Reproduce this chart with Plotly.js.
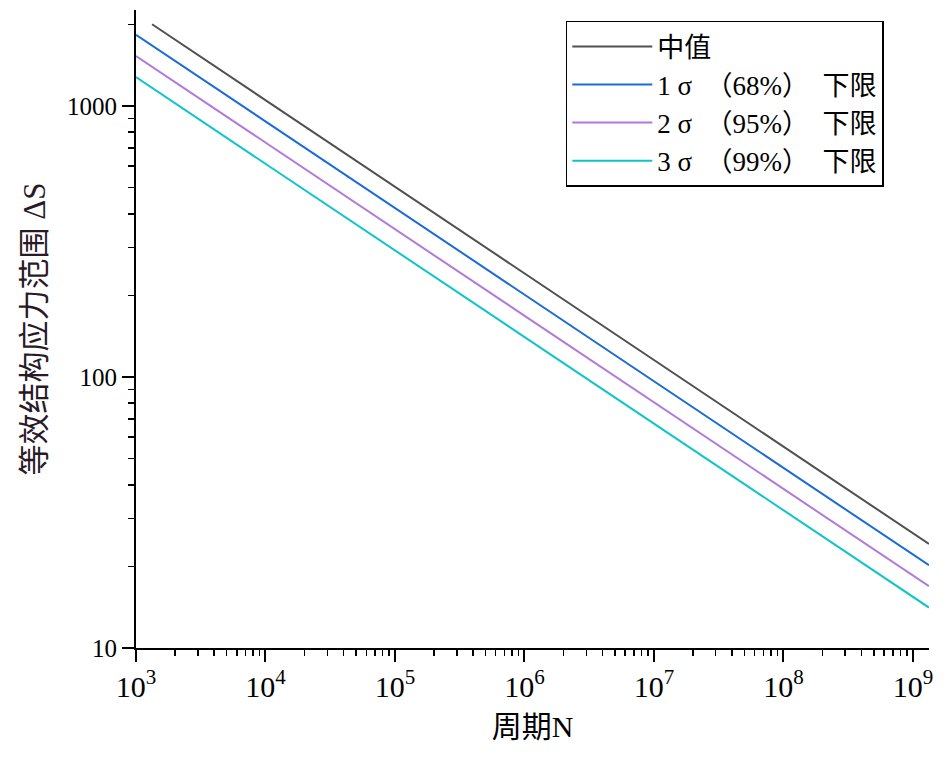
<!DOCTYPE html>
<html>
<head>
<meta charset="utf-8">
<script src="https://cdn.plot.ly/plotly-3.0.1.min.js"></script>
<style>
  html, body { margin: 0; padding: 0; background: #fff; }
  #chart { width: 951px; height: 758px; }
</style>
</head>
<body>
<div id="chart"></div>
<script>
// cycles N (read at decades)
var cycles = [1e3, 1e4, 1e5, 1e6, 1e7, 1e8, 1e9, 1.33e9];
var meanCycles = [1.33e3, 1e4, 1e5, 1e6, 1e7, 1e8, 1e9, 1.33e9];

// stress range values
var meanVals = [2002, 1051, 503.5, 241.3, 115.6, 55.4, 26.5, 24.2];
var sigma1Vals = [1831, 877, 420.5, 201.5, 96.5, 46.3, 22.2, 20.2];
var sigma2Vals = [1529, 732.5, 351.2, 168.2, 80.6, 38.6, 18.5, 16.9];
var sigma3Vals = [1277, 612, 293.2, 140.5, 67.3, 32.3, 15.5, 14.1];

var seriesNames = [
  "中值",
  "1 σ\u00a0 （68%）\u00a0 下限",
  "2 σ\u00a0 （95%）\u00a0 下限",
  "3 σ\u00a0 （99%）\u00a0 下限",
];

var yTickVals = [10, 100, 1000];
var yTickText = ["10", "100", "1000"];

var serif = "'Liberation Serif', 'Noto Sans CJK SC', serif";

function initializeChart() {
  var colors = ["#505050", "#1a6ad8", "#b07ad8", "#10c4c8"];
  var xs = [meanCycles, cycles, cycles, cycles];
  var ys = [meanVals, sigma1Vals, sigma2Vals, sigma3Vals];

  var traces = ys.map(function (y, i) {
    return {
      x: xs[i],
      y: y,
      type: "scatter",
      mode: "lines",
      name: seriesNames[i],
      line: { color: colors[i], width: 2 },
    };
  });

  var layout = {
    width: 951,
    height: 758,
    margin: { t: 10, r: 22, b: 110, l: 136 },
    plot_bgcolor: "#fff",
    paper_bgcolor: "#fff",
    font: { family: serif, color: "#000" },
    showlegend: true,
    legend: {
      x: 0.542,
      y: 0.983,
      xanchor: "left",
      yanchor: "top",
      bgcolor: "#fff",
      bordercolor: "#000",
      borderwidth: 1.5,
      itemwidth: 80,
      tracegroupgap: 0,
      font: { family: serif, size: 27, color: "#000" },
    },
    xaxis: {
      type: "log",
      range: [3, 9.124],
      dtick: 1,
      exponentformat: "power",
      showgrid: false,
      zeroline: false,
      showline: true,
      linecolor: "#000",
      linewidth: 2,
      ticks: "outside",
      ticklen: 12,
      tickwidth: 2,
      tickcolor: "#000",
      tickfont: { family: serif, size: 24, color: "#000" },
      minor: { dtick: "D1", ticks: "outside", ticklen: 6, tickwidth: 1.5, tickcolor: "#000", showgrid: false },
      title: { text: "周期N", font: { family: serif, size: 30, color: "#000" }, standoff: 14 },
    },
    yaxis: {
      type: "log",
      range: [1, 3.354],
      tickvals: yTickVals,
      ticktext: yTickText,
      showgrid: false,
      zeroline: false,
      showline: true,
      linecolor: "#000",
      linewidth: 2,
      ticks: "outside",
      ticklen: 12,
      tickwidth: 2,
      tickcolor: "#000",
      tickfont: { family: serif, size: 25, color: "#000" },
      minor: { dtick: "D1", ticks: "outside", ticklen: 6, tickwidth: 1.5, tickcolor: "#000", showgrid: false },
      title: { text: "等效结构应力范围 ΔS", font: { family: serif, size: 31, color: "#2a1a28" }, standoff: 12 },
    },
  };

  var config = { responsive: false, displayModeBar: false, staticPlot: true };

  Plotly.newPlot("chart", traces, layout, config);
}

initializeChart();
</script>
</body>
</html>
